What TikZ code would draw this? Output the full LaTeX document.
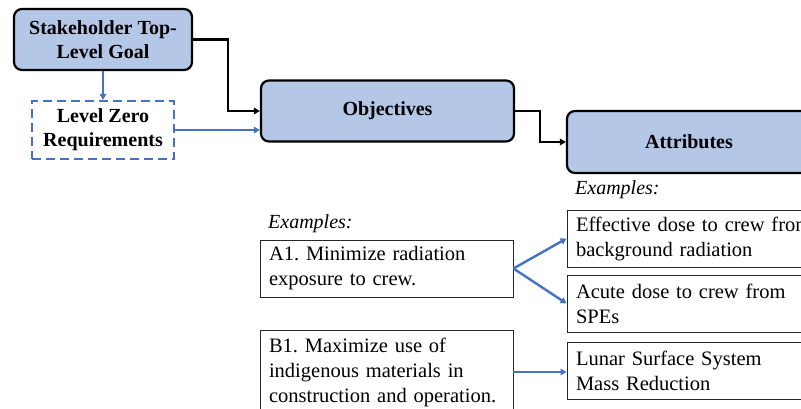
\documentclass[tikz,border=0pt]{standalone}
\usepackage{fontspec}
\setmainfont{Liberation Serif}
\usetikzlibrary{arrows.meta}
\definecolor{boxblue}{HTML}{B4C7E7}
\definecolor{arrblue}{HTML}{4472C4}
\frenchspacing
\begin{document}
\begin{tikzpicture}[x=1pt,y=-1pt,
  titlebox/.style={draw=black, line width=2.2pt, fill=boxblue, rounded corners=8pt,
    font=\fontsize{20}{24}\selectfont\bfseries, align=center, inner sep=0pt},
  dashbox/.style={draw=arrblue, line width=2.2pt, dash pattern=on 9pt off 5pt,
    font=\fontsize{20}{24}\selectfont\bfseries, align=center, inner sep=0pt},
  exbox/.style={draw=black!85, line width=0.9pt, fill=white,
    font=\fontsize{20.5}{25}\selectfont, align=left, inner xsep=9pt, inner ysep=0pt},
  exlabel/.style={font=\fontsize{20}{24}\selectfont\itshape, anchor=base west, inner sep=0pt},
  blk/.style={draw=black, line width=2.2pt, -{Triangle[length=6pt,width=6.5pt]}},
  blu/.style={draw=arrblue, line width=2.4pt, -{Triangle[length=6pt,width=6.5pt]}}
]
\useasboundingbox (0,0) rectangle (801,409);
\clip (0,0) rectangle (801,409);
\fill[white] (0,0) rectangle (801,409);

\node[titlebox, minimum width=178pt, minimum height=61pt] (goal) at (103,39.5) {Stakeholder Top-\\Level Goal};
\node[dashbox, minimum width=142pt, minimum height=58pt] (lz) at (103,130) {Level Zero\\Requirements};
\node[titlebox, minimum width=253pt, minimum height=61pt] (obj) at (387.5,111) {Objectives};
\node[titlebox, minimum width=244pt, minimum height=62pt] (attr) at (689,142) {Attributes};

\node[exlabel] (exo) at (268,229) {Examples:};
\node[exlabel] (exa) at (575,194) {Examples:};

\node[exbox, text width=235pt, minimum height=57pt] (a1) at (386.5,268.5) {A1. Minimize radiation\\exposure to crew.};
\node[exbox, text width=235pt, minimum height=84pt] (b1) at (386.5,372) {B1. Maximize use of\\indigenous materials in\\construction and operation.};

\node[exbox, text width=245pt, minimum height=57pt] (e1) at (698.5,238.5) {Effective dose to crew from\\background radiation};
\node[exbox, text width=245pt, minimum height=57pt] (e2) at (698.5,303.5) {Acute dose to crew from\\SPEs};
\node[exbox, text width=245pt, minimum height=57pt] (e3) at (698.5,370.5) {Lunar Surface System\\Mass Reduction};

\draw[blk] (goal.east) -- ++(35,0) |- (obj.west);
\draw[blu] (goal.south) -- (lz.north);
\draw[blu] (lz.east) -- (lz.east -| obj.west);
\draw[blk] (obj.east) -- ++(25,0) |- (attr.west);
\draw[blu] (a1.east) -- (e1.west);
\draw[blu] (a1.east) -- (e2.west);
\draw[blu] (b1.east) -- (b1.east -| e3.west);
\end{tikzpicture}
\end{document}
